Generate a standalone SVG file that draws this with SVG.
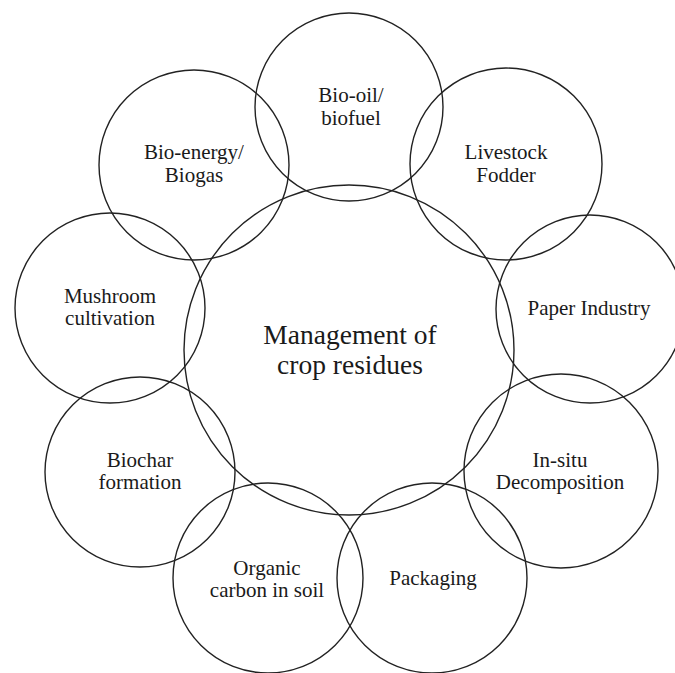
<svg xmlns="http://www.w3.org/2000/svg" width="675" height="673" viewBox="0 0 675 673">
<rect width="675" height="673" fill="#fff"/>
<g fill="none" stroke="#222" stroke-width="1.4">
<g id="center"><circle cx="349" cy="350" r="165"/></g>
<g id="biooil"><circle cx="349" cy="107" r="94"/></g>
<g id="livestock"><circle cx="506" cy="164" r="96"/></g>
<g id="paper"><circle cx="590" cy="309" r="94"/></g>
<g id="insitu"><circle cx="561" cy="471" r="97"/></g>
<g id="packaging"><circle cx="432" cy="578" r="95"/></g>
<g id="organic"><circle cx="268" cy="578" r="95"/></g>
<g id="biochar"><circle cx="140" cy="472" r="95"/></g>
<g id="mushroom"><circle cx="110" cy="308" r="95"/></g>
<g id="bioenergy"><circle cx="194" cy="165" r="95"/></g>
</g>
<g id="labels">
<text font-family="'Liberation Serif'" style="font-family:'Liberation Serif',serif" font-size="27.5" fill="#1a1a1a" text-anchor="middle" x="350" y="344">Management of</text>
<text font-family="'Liberation Serif'" style="font-family:'Liberation Serif',serif" font-size="27.5" fill="#1a1a1a" text-anchor="middle" x="350" y="374">crop residues</text>
<text font-family="'Liberation Serif'" style="font-family:'Liberation Serif',serif" font-size="21" fill="#1a1a1a" text-anchor="middle" x="351" y="102">Bio-oil/</text>
<text font-family="'Liberation Serif'" style="font-family:'Liberation Serif',serif" font-size="21" fill="#1a1a1a" text-anchor="middle" x="351" y="125">biofuel</text>
<text font-family="'Liberation Serif'" style="font-family:'Liberation Serif',serif" font-size="21" fill="#1a1a1a" text-anchor="middle" x="506" y="159">Livestock</text>
<text font-family="'Liberation Serif'" style="font-family:'Liberation Serif',serif" font-size="21" fill="#1a1a1a" text-anchor="middle" x="506" y="182">Fodder</text>
<text font-family="'Liberation Serif'" style="font-family:'Liberation Serif',serif" font-size="21" fill="#1a1a1a" text-anchor="middle" x="589" y="315">Paper Industry</text>
<text font-family="'Liberation Serif'" style="font-family:'Liberation Serif',serif" font-size="21" fill="#1a1a1a" text-anchor="middle" x="560" y="467">In-situ</text>
<text font-family="'Liberation Serif'" style="font-family:'Liberation Serif',serif" font-size="21" fill="#1a1a1a" text-anchor="middle" x="560" y="489">Decomposition</text>
<text font-family="'Liberation Serif'" style="font-family:'Liberation Serif',serif" font-size="21" fill="#1a1a1a" text-anchor="middle" x="433" y="585">Packaging</text>
<text font-family="'Liberation Serif'" style="font-family:'Liberation Serif',serif" font-size="21" fill="#1a1a1a" text-anchor="middle" x="267" y="575">Organic</text>
<text font-family="'Liberation Serif'" style="font-family:'Liberation Serif',serif" font-size="21" fill="#1a1a1a" text-anchor="middle" x="267" y="597">carbon in soil</text>
<text font-family="'Liberation Serif'" style="font-family:'Liberation Serif',serif" font-size="21" fill="#1a1a1a" text-anchor="middle" x="140" y="467">Biochar</text>
<text font-family="'Liberation Serif'" style="font-family:'Liberation Serif',serif" font-size="21" fill="#1a1a1a" text-anchor="middle" x="140" y="489">formation</text>
<text font-family="'Liberation Serif'" style="font-family:'Liberation Serif',serif" font-size="21" fill="#1a1a1a" text-anchor="middle" x="110" y="303">Mushroom</text>
<text font-family="'Liberation Serif'" style="font-family:'Liberation Serif',serif" font-size="21" fill="#1a1a1a" text-anchor="middle" x="110" y="325">cultivation</text>
<text font-family="'Liberation Serif'" style="font-family:'Liberation Serif',serif" font-size="21" fill="#1a1a1a" text-anchor="middle" x="194" y="159">Bio-energy/</text>
<text font-family="'Liberation Serif'" style="font-family:'Liberation Serif',serif" font-size="21" fill="#1a1a1a" text-anchor="middle" x="194" y="182">Biogas</text>
</g>
</svg>
